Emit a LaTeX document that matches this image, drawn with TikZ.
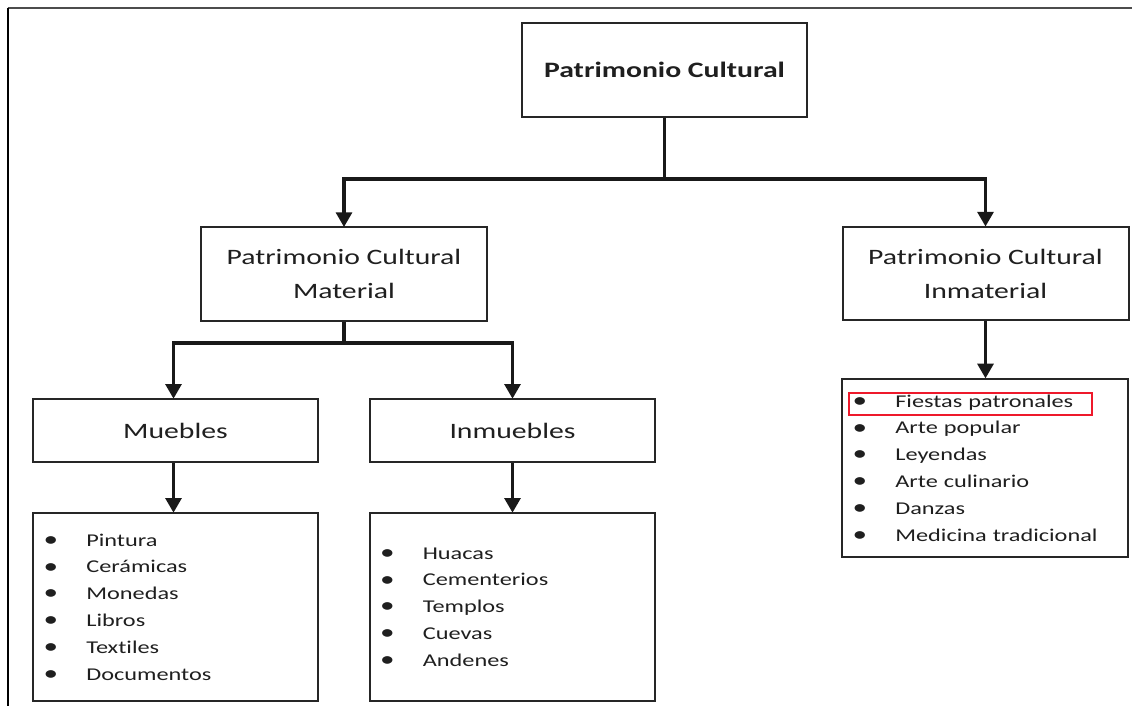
\documentclass[tikz,border=0pt]{standalone}
\usepackage{fontspec}
\setmainfont{Carlito}[FakeStretch=1.35, Ligatures=NoCommon]
\usetikzlibrary{arrows.meta}

\begin{document}
\begin{tikzpicture}[x=0.75pt, y=-0.75pt,
  box/.style={draw=black!85, line width=1.5pt, inner sep=0pt, text=black!88},
  headbox/.style={box, minimum width=213.75pt, minimum height=70.5pt,
    font=\fontsize{16.5}{25.5}\selectfont\bfseries},
  catbox/.style={box, minimum width=214.5pt, minimum height=70pt, align=center,
    font=\fontsize{16.5}{25.5}\selectfont},
  subbox/.style={box, minimum width=213.75pt, minimum height=47.25pt,
    font=\fontsize{16.5}{25.5}\selectfont},
  listbox/.style={box, inner xsep=8pt, text width=197.75pt, align=left,
    font=\fontsize{13.5}{20.1}\selectfont},
  conn/.style={line width=2.3pt, draw=black!90},
  arr/.style={conn, -{Triangle[length=11pt, width=12pt]}, shorten >=-0.5pt},
  highlight/.style={draw=red!70!purple!90!white, line width=1.4pt},
]
\newcommand{\itm}[1]{\makebox[32pt][l]{\raisebox{-0.2pt}{\scalebox{1.2}{\textbullet}}}#1}

% page area
\useasboundingbox (0,0) rectangle (1132,706);
\fill[white] (0,0) rectangle (1132,706);
\draw[black!70, line width=1.8pt] (7.5,8) -- (1132,8);
\draw[black, line width=1pt] (8,8) -- (8,706);

% boxes
\node[headbox]  (root) at (664.5,70)  {Patrimonio Cultural};
\node[catbox]   (mat)  at (344,274)   {Patrimonio Cultural\\Material};
\node[catbox]   (inm)  at (985.5,273.5) {Patrimonio Cultural\\Inmaterial};
\node[subbox]   (mue)  at (175.5,430.5) {Muebles};
\node[subbox]   (imb)  at (512.5,430.5) {Inmuebles};

\node[listbox, minimum height=141pt] (lmue) at (175.5,607)
  {\itm{Pintura}\\\itm{Cerámicas}\\\itm{Monedas}\\\itm{Libros}\\\itm{Textiles}\\\itm{Documentos}};
\node[listbox, minimum height=141pt] (limb) at (512,607)
  {\itm{Huacas}\\\itm{Cementerios}\\\itm{Templos}\\\itm{Cuevas}\\\itm{Andenes}};
\node[listbox, minimum height=134pt, text width=198.5pt] (linm) at (985,468)
  {\itm{Fiestas patronales}\\\itm{Arte popular}\\\itm{Leyendas}\\\itm{Arte culinario}\\\itm{Danzas}\\\itm{Medicina tradicional}};

% marked item
\draw[highlight] (849,393) rectangle (1092,415);

% connectors
\coordinate (j1) at (664.5,179);
\coordinate (j2) at (344,343);
\draw[conn] (root.south) -- (j1);
\draw[arr] (j1) -| (mat.north);
\draw[arr] (j1) -| (inm.north);
\draw[conn] (mat.south) -- (j2);
\draw[arr] (j2) -| ([xshift=-1.5pt]mue.north);
\draw[arr] (j2) -| (imb.north);
\draw[arr] ([xshift=-1.5pt]mue.south) -- ([xshift=-1.5pt]lmue.north);
\draw[arr] (imb.south) -- (imb.south |- limb.north);
\draw[arr] (inm.south) -- (inm.south |- linm.north);
\end{tikzpicture}
\end{document}
